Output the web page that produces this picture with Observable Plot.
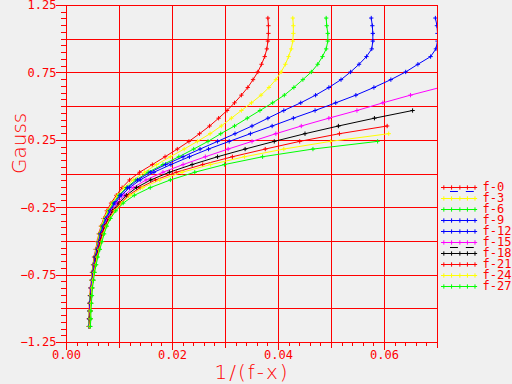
<!DOCTYPE html>
<html><head><meta charset="utf-8">
<script src="https://cdn.jsdelivr.net/npm/d3@7"></script>
<script src="https://cdn.jsdelivr.net/npm/@observablehq/plot@0.6"></script>
<style>
body{margin:0;background:#f0f0f0}
#chart{position:relative;width:512px;height:384px;overflow:hidden}
</style>
</head><body><div id="chart"></div>
<script>
// Gauss levels (shared y values), bottom to top
const levels = [-1.131,-1.074,-1.016,-0.959,-0.902,-0.845,-0.788,-0.730,-0.673,-0.616,
  -0.559,-0.502,-0.444,-0.387,-0.330,-0.273,-0.216,-0.158,-0.101,-0.044,
  0.013,0.070,0.128,0.185,0.242,0.299,0.356,0.414,0.471,0.528,
  0.585,0.642,0.700,0.757,0.814,0.871,0.928,0.986,1.043,1.100,1.157];

// 1/(f-x) values for each series, aligned with levels from the bottom
const f0  = [.0042,.0042,.0043,.0043,.0044,.0045,.0047,.0048,.0050,.0052,.0055,.0058,.0061,.0065,.0070,.0076,
  .0084,.0094,.0105,.0119,.0138,.0162,.0186,.0209,.0231,.0251,.0270,.0287,.0303,.0317,.0330,.0342,.0352,.0361,.0368,.0374,.0378,.0380,.0381,.0381,.0380];
const f3  = [.0042,.0043,.0043,.0044,.0044,.0046,.0047,.0049,.0051,.0053,.0056,.0059,.0062,.0066,.0071,.0078,
  .0086,.0096,.0109,.0126,.0147,.0170,.0196,.0222,.0247,.0271,.0292,.0311,.0330,.0349,.0367,.0382,.0395,.0405,.0413,.0419,.0424,.0427,.0428,.0428,.0427];
const f6  = [.0042,.0043,.0043,.0044,.0045,.0046,.0048,.0049,.0051,.0054,.0057,.0060,.0063,.0067,.0073,.0080,
  .0088,.0099,.0113,.0131,.0154,.0182,.0212,.0240,.0267,.0291,.0317,.0341,.0365,.0389,.0411,.0429,.0446,.0462,.0474,.0483,.0490,.0493,.0493,.0491,.0490];
const f9  = [.0043,.0043,.0044,.0044,.0045,.0046,.0048,.0050,.0052,.0054,.0058,.0061,.0064,.0069,.0074,.0082,
  .0090,.0101,.0115,.0134,.0158,.0187,.0220,.0252,.0285,.0318,.0350,.0380,.0410,.0442,.0470,.0495,.0518,.0536,.0552,.0566,.0576,.0578,.0578,.0577,.0575];
const f12 = [.0043,.0044,.0044,.0045,.0046,.0047,.0049,.0050,.0053,.0055,.0058,.0062,.0065,.0070,.0076,.0083,
  .0092,.0104,.0119,.0139,.0165,.0197,.0232,.0268,.0307,.0347,.0388,.0428,.0469,.0508,.0546,.0580,.0612,.0640,.0663,.0687,.0697,.0700,.0700,.0699,.0696];
const f15 = [.0043,.0044,.0044,.0045,.0046,.0047,.0049,.0051,.0053,.0056,.0059,.0062,.0066,.0071,.0077,.0085,
  .0096,.0109,.0126,.0150,.0182,.0220,.0262,.0305,.0350,.0395,.0443,.0495,.0548,.0597,.0649,.0705,.0768];
const f18 = [.0044,.0044,.0045,.0045,.0046,.0048,.0050,.0051,.0054,.0056,.0060,.0063,.0067,.0072,.0079,.0087,
  .0099,.0113,.0132,.0159,.0194,.0237,.0285,.0337,.0392,.0450,.0513,.0581,.0653];
const f21 = [.0044,.0045,.0045,.0046,.0047,.0048,.0050,.0052,.0054,.0057,.0061,.0064,.0068,.0073,.0080,.0089,
  .0102,.0117,.0139,.0168,.0207,.0257,.0313,.0375,.0440,.0515,.0605];
const f24 = [.0044,.0045,.0045,.0046,.0047,.0048,.0050,.0052,.0055,.0058,.0062,.0066,.0070,.0075,.0082,.0091,
  .0104,.0120,.0144,.0176,.0218,.0272,.0336,.0410,.0498,.0608];
const f27 = [.0045,.0046,.0046,.0047,.0048,.0049,.0051,.0053,.0056,.0059,.0063,.0067,.0071,.0076,.0083,.0093,
  .0107,.0128,.0158,.0196,.0242,.0298,.0370,.0465,.0587];

const names  = ["f-0","f-3","f-6","f-9","f-12","f-15","f-18","f-21","f-24","f-27"];
const colors = ["#ff0000","#ffff00","#00ff00","#0000ff","#0000ff","#ff00ff","#000000","#ff0000","#ffff00","#00ff00"];
const series = [f0,f3,f6,f9,f12,f15,f18,f21,f24,f27];

const xGrid   = [0,0.01,0.02,0.03,0.04,0.05,0.06,0.07];
const xLabels = [0,0.02,0.04,0.06];
const yGrid   = [-1.25,-1,-0.75,-0.5,-0.25,0,0.25,0.5,0.75,1,1.25];
const yLabels = [-1.25,-0.75,-0.25,0.25,0.75,1.25];
const xMinor = d3.range(36).map(i => i*0.002);
const yMinor = d3.range(51).map(i => -1.25 + i*0.05);
const fmt = d => d.toFixed(2).replace("-", "\u2212");

const W = 512, H = 384, mL = 66, mR = 75, mT = 5, mB = 42;
const xDom = [0, 0.07], yDom = [-1.25, 1.25];
const pxX = (xDom[1] - xDom[0]) / (W - mL - mR);  // data units per pixel
const pxY = (yDom[1] - yDom[0]) / (H - mT - mB);
const RED = "#ff0000";
const crisp = {stroke: RED, strokeWidth: 1, shapeRendering: "crispEdges"};

const marks = [
  Plot.ruleX(xGrid, {x: d => d, ...crisp}),
  Plot.ruleY(yGrid, {y: d => d, ...crisp}),
  Plot.ruleX(xMinor, {x: d => d, y1: yDom[0], y2: yDom[0] - 4 * pxY, ...crisp}),
  Plot.ruleX(xGrid, {x: d => d, y1: yDom[0], y2: yDom[0] - 6 * pxY, ...crisp}),
  Plot.ruleX(xLabels, {x: d => d, y1: yDom[0], y2: yDom[0] - 8 * pxY, ...crisp}),
  Plot.ruleY(yMinor, {y: d => d, x1: xDom[0], x2: xDom[0] - 5 * pxX, ...crisp}),
  Plot.ruleY(yLabels, {y: d => d, x1: xDom[0], x2: xDom[0] - 10 * pxX, ...crisp}),
  Plot.text(xLabels, {x: d => d, y: yDom[0], text: fmt, dy: 13, lineAnchor: "middle", fill: RED}),
  Plot.text(yLabels, {x: xDom[0], y: d => d, text: fmt, dx: -10, textAnchor: "end", lineAnchor: "middle", fill: RED})
];
series.forEach((xs, i) => {
  const rows = xs.map((x, j) => ({x, y: levels[j]}));
  marks.push(Plot.line(rows, {x: "x", y: "y", stroke: colors[i], strokeWidth: 1, clip: true}));
  marks.push(Plot.dot(rows, {x: "x", y: "y", symbol: "plus", r: 1.5, stroke: colors[i], strokeWidth: 1, clip: true}));
});
marks.push(Plot.text(["1/(f-x)"], {frameAnchor: "bottom", dy: 30, lineAnchor: "middle", fontSize: 20,
  fontFamily: "DejaVu Sans", fontWeight: 200, fill: RED}));
marks.push(Plot.text(["Gauss"], {frameAnchor: "left", dx: -47, rotate: -90, lineAnchor: "middle", fontSize: 20,
  fontFamily: "DejaVu Sans", fontWeight: 200, fill: RED}));

const chart = Plot.plot({
  width: W, height: H,
  marginLeft: mL, marginRight: mR, marginTop: mT, marginBottom: mB,
  x: {domain: xDom, axis: null},
  y: {domain: yDom, axis: null},
  style: {background: "#f0f0f0", color: RED, fontFamily: "DejaVu Sans Mono", fontSize: "12px", overflow: "visible"},
  marks
});
d3.select(chart).selectAll("text").filter(function(){ return this.textContent === "1/(f-x)"; })
  .style("letter-spacing", "2px");
document.getElementById("chart").appendChild(chart);

// legend
const markerPos = [0.065, 0.28, 0.51, 0.72, 0.93];
const legendMarks = [];
names.forEach((n, i) => {
  legendMarks.push(Plot.ruleY([n], {y: d => d, x1: 0, x2: 1, stroke: colors[i], strokeWidth: 1}));
  legendMarks.push(Plot.dot(markerPos, {x: d => d, y: () => n, symbol: "plus", r: 1.5, stroke: colors[i], strokeWidth: 1}));
});
legendMarks.push(Plot.ruleY([0.25, 0.69], {y: () => "f-0", x1: d => d, x2: d => d + 0.22, dy: 4, stroke: "#0000ff", strokeWidth: 1}));
legendMarks.push(Plot.ruleY([0.25, 0.69], {y: () => "f-15", x1: d => d, x2: d => d + 0.22, dy: 5, stroke: "#000000", strokeWidth: 1}));
legendMarks.push(Plot.text(names, {x: 1, y: d => d, dx: 5, textAnchor: "start", lineAnchor: "middle", fill: RED}));
const legend = Plot.plot({
  width: 74, height: 135, margin: 0,
  x: {domain: [0, 1], range: [3, 39], axis: null},
  y: {type: "point", domain: names, range: [7, 120], axis: null},
  style: {background: "transparent", color: RED, fontFamily: "DejaVu Sans Mono", fontSize: "12px", overflow: "visible"},
  marks: legendMarks
});
legend.style.position = "absolute";
legend.style.left = "438px";
legend.style.top = "173px";
document.getElementById("chart").appendChild(legend);
</script>
</body></html>
